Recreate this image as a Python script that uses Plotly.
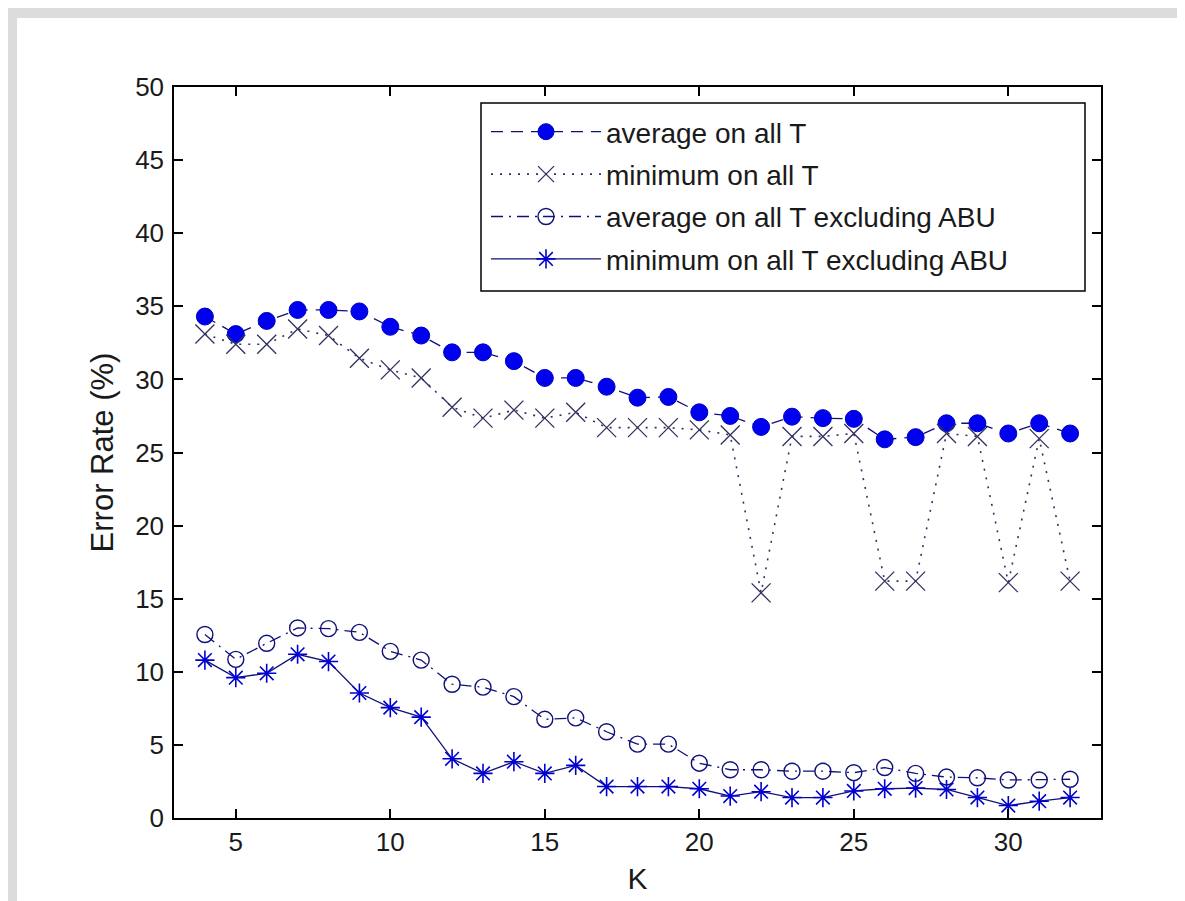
import plotly.graph_objects as go

K = list(range(4, 33))
avg_all = [34.3, 33.1, 34.0, 34.75, 34.75, 34.65, 33.6, 33.0, 31.85, 31.85,
           31.25, 30.1, 30.1, 29.5, 28.75, 28.8, 27.75, 27.5, 26.75, 27.45,
           27.35, 27.3, 25.9, 26.05, 27.0, 27.0, 26.3, 27.0, 26.3]
min_all = [33.1, 32.4, 32.4, 33.45, 33.0, 31.45, 30.65, 30.1, 28.1, 27.35,
           27.9, 27.35, 27.75, 26.7, 26.7, 26.7, 26.55, 26.2, 15.4, 26.1,
           26.1, 26.3, 16.2, 16.2, 26.3, 26.1, 16.1, 25.95, 16.2]
avg_excl = [12.55, 10.85, 11.95, 13.0, 12.95, 12.7, 11.4, 10.8, 9.15, 8.95,
            8.3, 6.75, 6.85, 5.9, 5.05, 5.05, 3.75, 3.3, 3.3, 3.2,
            3.2, 3.1, 3.45, 3.05, 2.8, 2.75, 2.6, 2.6, 2.65]
min_excl = [10.8, 9.6, 9.9, 11.2, 10.7, 8.55, 7.55, 6.9, 4.05, 3.05,
            3.85, 3.05, 3.6, 2.15, 2.15, 2.15, 2.0, 1.5, 1.8, 1.4,
            1.4, 1.85, 2.0, 2.05, 1.95, 1.4, 0.85, 1.15, 1.4]

names = ["average on all T", "minimum on all T",
         "average on all T excluding ABU", "minimum on all T excluding ABU"]
x_ticks = [5, 10, 15, 20, 25, 30]
y_ticks = [0, 5, 10, 15, 20, 25, 30, 35, 40, 45, 50]

NAVY = "#10107a"
BLUE = "#0000f0"
FONT = "Liberation Sans, Arial, sans-serif"
TXT = "#1a1a1a"

# plot area in pixels: x 166..1093, y 79..810
L, R, T, B = 166, 92, 79, 91
PW, PH = 1185 - L - R, 901 - T - B


def px_x(p):
    return (p - L) / PW


def px_y(p):
    return (901 - B - p) / PH


fig = go.Figure()
fig.add_trace(go.Scatter(
    x=K, y=avg_all, name=names[0], mode="lines+markers", legendgroup="a",
    line=dict(color=NAVY, width=1.3, dash="12px,8px"),
    marker=dict(symbol="circle", size=17, color=BLUE, line=dict(color="#0000c0", width=1))))
fig.add_trace(go.Scatter(
    x=K, y=min_all, name=names[1], mode="lines+markers", legendgroup="b",
    line=dict(color="#303060", width=1.6, dash="2px,7px"),
    marker=dict(symbol="x-thin-open", size=19, color="#303060", line=dict(color="#303060", width=1.3))))
fig.add_trace(go.Scatter(
    x=K, y=avg_excl, name=names[2], mode="lines+markers", legendgroup="c",
    line=dict(color=NAVY, width=1.3, dash="12px,6px,2px,6px"),
    marker=dict(symbol="circle-open", size=16, color=NAVY, line=dict(color=NAVY, width=1.4))))
fig.add_trace(go.Scatter(
    x=K, y=min_excl, name=names[3], mode="lines+markers", legendgroup="d",
    line=dict(color=NAVY, width=1.3, dash="solid"),
    marker=dict(symbol="asterisk-open", size=16, color="#0000d0", line=dict(color="#0000d0", width=1.6))))

axis_common = dict(
    showline=True, linecolor="black", linewidth=1.5, mirror="ticks",
    ticks="inside", ticklen=9, tickwidth=1.5, tickcolor="black",
    showgrid=False, zeroline=False,
    tickfont=dict(family=FONT, size=26, color=TXT),
)

fig.update_layout(
    width=1185, height=901,
    margin=dict(l=L, r=R, t=T, b=B),
    paper_bgcolor="white", plot_bgcolor="white",
    font=dict(family=FONT, color=TXT),
    xaxis=dict(range=[3, 33], tickvals=x_ticks, ticktext=[str(v) for v in x_ticks],
               title=dict(text="K", font=dict(family=FONT, size=30, color=TXT), standoff=12),
               **axis_common),
    yaxis=dict(range=[0, 50], tickvals=y_ticks, ticktext=[str(v) for v in y_ticks],
               ticklabelstandoff=3,
               title=dict(text="Error Rate (%)", font=dict(family=FONT, size=31, color=TXT), standoff=12),
               **axis_common),
    legend=dict(x=px_x(478), y=px_y(99), xanchor="left", yanchor="top",
                bgcolor="rgba(0,0,0,0)", borderwidth=0,
                font=dict(family=FONT, size=28, color=TXT),
                itemwidth=110, traceorder="grouped", tracegroupgap=3),
    showlegend=True,
    shapes=[
        dict(type="rect", xref="paper", yref="paper", layer="below",
             x0=-0.3, x1=px_x(9), y0=-0.2, y1=1.2, fillcolor="#dcdcdc", line=dict(width=0)),
        dict(type="rect", xref="paper", yref="paper", layer="below",
             x0=-0.3, x1=1.2, y0=px_y(10), y1=1.2, fillcolor="#dcdcdc", line=dict(width=0)),
        dict(type="rect", xref="paper", yref="paper", layer="below",
             x0=px_x(1176), x1=1.2, y0=-0.2, y1=1.2, fillcolor="#dcdcdc", line=dict(width=0)),
        # legend box
        dict(type="rect", xref="paper", yref="paper", layer="above",
             x0=px_x(473), x1=px_x(1077), y0=px_y(283), y1=px_y(95),
             fillcolor="white", line=dict(color="black", width=1.5)),
    ],
)

fig.write_html("out.html")
